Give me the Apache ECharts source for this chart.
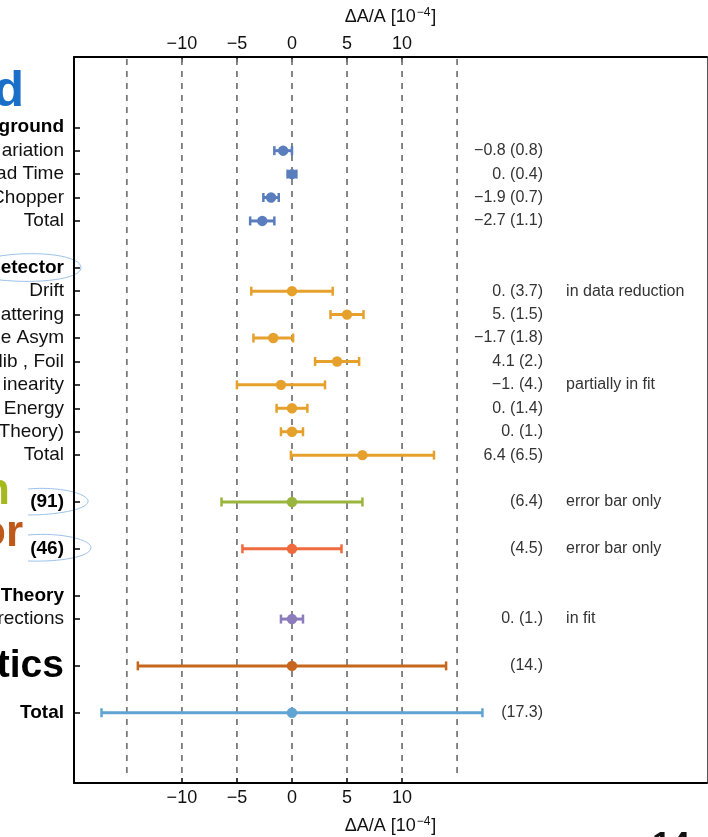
<!DOCTYPE html>
<html><head><meta charset="utf-8">
<script src="https://cdn.jsdelivr.net/npm/echarts@6/dist/echarts.min.js"></script>
<style>html,body{margin:0;padding:0;background:#fff}#c{width:708px;height:837px}</style>
</head><body><div id="c"></div>
<script>
// ---- data ----
const rowLabels = ['ground','ariation','ad Time','Chopper','Total','',
  'etector','Drift','attering','se Asym','lib , Foil','inearity','Energy','Theory)','Total','',
  '(91)','','(46)','','Theory','rections','','tics','','Total'];
const rowStyles = ['b','r','r','r','r','',
  'b','r','r','r','r','r','r','r','r','',
  'b','','b','','b','r','','big','','b'];
const barRows    = [1,2,3,4, 7,8,9,10,11,12,13,14, 16,18, 21, 23, 25];
const barCenters = [-0.8,0,-1.9,-2.7, 0,5,-1.7,4.1,-1,0,0,6.4, 0,0, 0, 0, 0];
const barErrors  = [0.8,0.4,0.7,1.1, 3.7,1.5,1.8,2,4,1.4,1,6.5, 6.4,4.5, 1, 14, 17.3];
const barGroups  = ['bg','bg','bg','bg','det','det','det','det','det','det','det','det','g91','g46','th','stat','tot'];
const valueTexts = ['−0.8 (0.8)','0. (0.4)','−1.9 (0.7)','−2.7 (1.1)',
  '0. (3.7)','5. (1.5)','−1.7 (1.8)','4.1 (2.)','−1. (4.)','0. (1.4)','0. (1.)','6.4 (6.5)',
  '(6.4)','(4.5)','0. (1.)','(14.)','(17.3)'];
const noteRows  = [7, 11, 16, 18, 21];
const noteTexts = ['in data reduction','partially in fit','error bar only','error bar only','in fit'];
const xTickValues = [-10,-5,0,5,10];
const gridValues  = [-15,-10,-5,0,5,10,15];

// ---- styles ----
const groupColors = {bg:'#5a7dbd',det:'#e6a12d',g91:'#9ab53d',g46:'#ef6a3c',th:'#8c7cbb',stat:'#c6661c',tot:'#5fa4d3'};
const FF = '"Liberation Sans", Arial, Helvetica, sans-serif';
const XMIN = -19.8, XMAX = 37.7, YMIN = -3, YMAX = 28;
const VALUE_X = 22.8, NOTE_X = 24.9;

const labelRows = rowLabels.map((t,i)=>t?i:-1).filter(i=>i>=0);
const fmtTick = v => v < 0 ? '−' + (-v) : String(v);
const axisName = '{a|ΔA/A [10}{s|−4}{a|]}';
const nameRich = {
  a:{fontSize:18,fontFamily:FF,color:'#111'},
  s:{fontSize:12,fontFamily:FF,color:'#111',padding:[0,1,9,1]}
};
const stroke = {fill:null,stroke:'#9cc3ea',lineWidth:1};

const chart = echarts.init(document.getElementById('c'));
chart.setOption({
  animation:false,
  backgroundColor:'#fff',
  grid:{left:74,right:1,top:57,bottom:54,containLabel:false,outerBoundsMode:'none'},
  xAxis:[{
    type:'value',position:'bottom',min:XMIN,max:XMAX,
    axisLine:{show:true,onZero:false,lineStyle:{color:'#000',width:2}},
    axisTick:{show:true,inside:true,length:5,customValues:xTickValues,lineStyle:{color:'#000',width:1.5}},
    axisLabel:{customValues:xTickValues,formatter:fmtTick,fontSize:18,fontFamily:FF,color:'#111',margin:6},
    splitLine:{show:false},
    name:axisName,nameLocation:'middle',nameGap:33,nameTextStyle:{rich:nameRich}
  },{
    type:'value',position:'top',min:XMIN,max:XMAX,
    axisLine:{show:true,onZero:false,lineStyle:{color:'#000',width:2}},
    axisTick:{show:true,inside:true,length:5,customValues:xTickValues,lineStyle:{color:'#000',width:1.5}},
    axisLabel:{customValues:xTickValues,formatter:fmtTick,fontSize:18,fontFamily:FF,color:'#111',margin:4},
    splitLine:{show:false},
    name:axisName,nameLocation:'middle',nameGap:29,nameTextStyle:{rich:nameRich}
  }],
  yAxis:[{
    type:'value',position:'left',min:YMIN,max:YMAX,inverse:true,
    axisLine:{show:true,onZero:false,lineStyle:{color:'#000',width:2}},
    axisTick:{show:true,inside:true,length:6,customValues:labelRows,lineStyle:{color:'#000',width:1.5}},
    axisLabel:{customValues:labelRows,margin:10,
      formatter:v=>'{'+rowStyles[v]+'|'+rowLabels[v]+'}',
      rich:{
        r:{fontSize:19,fontFamily:FF,color:'#111'},
        b:{fontSize:19,fontFamily:FF,color:'#000',fontWeight:'bold'},
        big:{fontSize:39,fontFamily:FF,color:'#000',fontWeight:'bold'}
      }},
    splitLine:{show:false}
  },{
    type:'value',position:'right',min:YMIN,max:YMAX,inverse:true,
    axisLine:{show:true,onZero:false,lineStyle:{color:'#555',width:1}},
    axisTick:{show:false},axisLabel:{show:false},splitLine:{show:false}
  }],
  series:[{
    type:'custom',name:'grid',z:1,silent:true,
    data:gridValues.map(v=>[v,0]),
    encode:{x:0,y:1},
    renderItem:(params,api)=>{
      const v = api.value(0);
      const a = api.coord([v,YMIN]), b = api.coord([v,27.7]);
      return {type:'line',shape:{x1:a[0],y1:a[1]+2,x2:b[0],y2:b[1]},
        style:{stroke:'#7a7a7a',lineWidth:1.8,lineDash:[6,6]}};
    }
  },{
    type:'custom',name:'errors',z:3,
    data:barRows.map((r,i)=>[barCenters[i],r,barErrors[i]]),
    encode:{x:0,y:1},
    renderItem:(params,api)=>{
      const c = api.value(0), r = api.value(1), e = api.value(2);
      const p0 = api.coord([c-e,r]), p1 = api.coord([c+e,r]), pc = api.coord([c,r]);
      const col = groupColors[barGroups[params.dataIndex]];
      const h = 4.5;
      return {type:'group',children:[
        {type:'line',shape:{x1:p0[0],y1:p0[1],x2:p1[0],y2:p1[1]},style:{stroke:col,lineWidth:3}},
        {type:'line',shape:{x1:p0[0],y1:p0[1]-h,x2:p0[0],y2:p0[1]+h},style:{stroke:col,lineWidth:2.5}},
        {type:'line',shape:{x1:p1[0],y1:p1[1]-h,x2:p1[0],y2:p1[1]+h},style:{stroke:col,lineWidth:2.5}},
        {type:'circle',shape:{cx:pc[0],cy:pc[1],r:5.2},style:{fill:col}}
      ]};
    }
  },{
    type:'custom',name:'values',z:3,silent:true,
    data:barRows.map(r=>[VALUE_X,r]),
    encode:{x:0,y:1},
    renderItem:(params,api)=>{
      const p = api.coord([api.value(0),api.value(1)]);
      return {type:'text',x:p[0],y:p[1],style:{text:valueTexts[params.dataIndex],
        fontSize:16,fontFamily:FF,fill:'#333',align:'right',verticalAlign:'middle'}};
    }
  },{
    type:'custom',name:'notes',z:3,silent:true,
    data:noteRows.map(r=>[NOTE_X,r]),
    encode:{x:0,y:1},
    renderItem:(params,api)=>{
      const p = api.coord([api.value(0),api.value(1)]);
      return {type:'text',x:p[0],y:p[1],style:{text:noteTexts[params.dataIndex],
        fontSize:16,fontFamily:FF,fill:'#333',align:'left',verticalAlign:'middle'}};
    }
  }],
  graphic:[
    {type:'text',x:24,y:117,style:{text:'d',font:'bold 50px '+FF,fill:'#1a6fc8',align:'right',verticalAlign:'bottom'}},
    {type:'text',x:10,y:514,style:{text:'n',font:'bold 44px '+FF,fill:'#a5b81c',align:'right',verticalAlign:'bottom'}},
    {type:'text',x:23,y:556,style:{text:'or',font:'bold 44px '+FF,fill:'#c0581a',align:'right',verticalAlign:'bottom'}},
    {type:'text',x:652,y:829,style:{text:'14',font:'bold 34px '+FF,fill:'#111',align:'left',verticalAlign:'top'}},
    {type:'bezierCurve',shape:{x1:0,y1:256,cpx1:40,cpy1:250,cpx2:82,cpy2:256,x2:81,y2:268},style:stroke},
    {type:'bezierCurve',shape:{x1:81,y1:268,cpx1:80,cpy1:279,cpx2:40,cpy2:284,x2:0,y2:280},style:stroke},
    {type:'bezierCurve',shape:{x1:28,y1:489,cpx1:60,cpy1:486,cpx2:90,cpy2:494,x2:88,y2:502},style:stroke},
    {type:'bezierCurve',shape:{x1:88,y1:502,cpx1:86,cpy1:510,cpx2:55,cpy2:515,x2:28,y2:515},style:stroke},
    {type:'bezierCurve',shape:{x1:28,y1:535,cpx1:62,cpy1:532,cpx2:92,cpy2:540,x2:91,y2:548},style:stroke},
    {type:'bezierCurve',shape:{x1:91,y1:548,cpx1:90,cpy1:557,cpx2:60,cpy2:562,x2:28,y2:561},style:stroke}
  ]
});
</script>
</body></html>
